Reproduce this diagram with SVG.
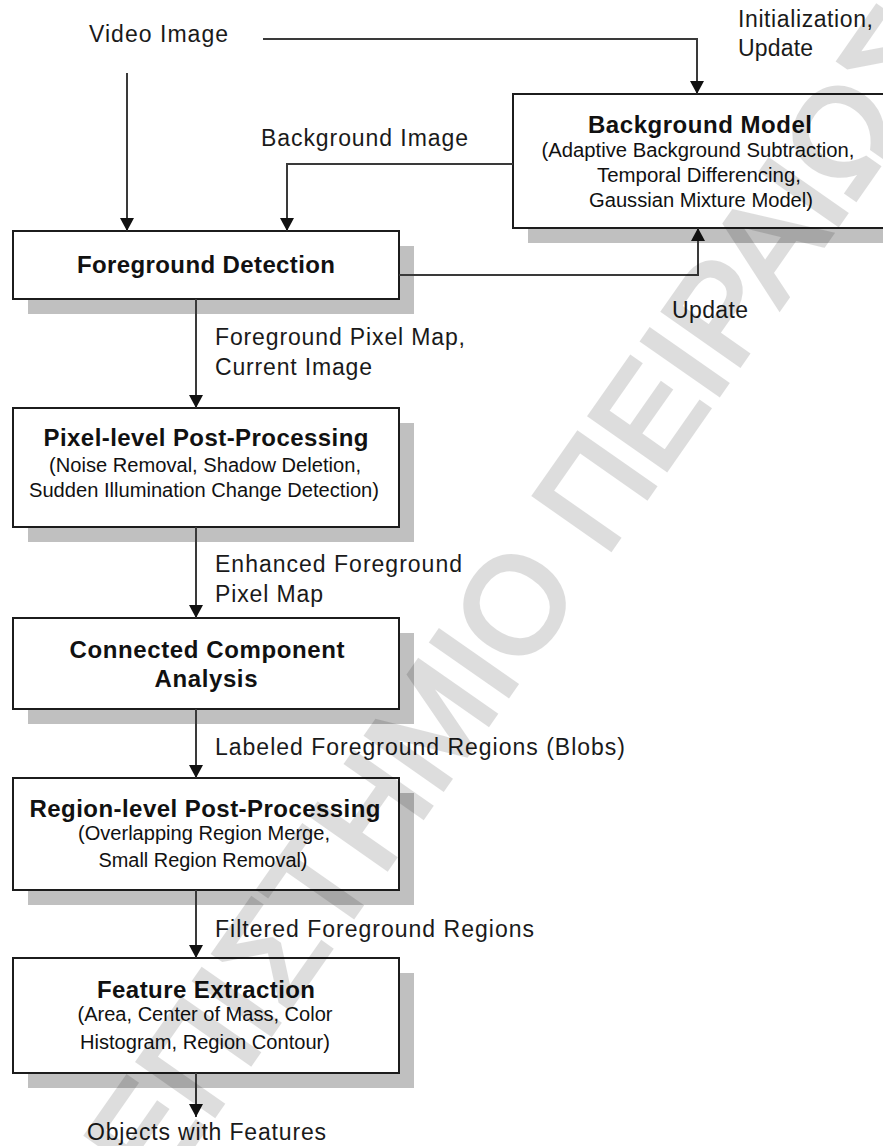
<svg xmlns="http://www.w3.org/2000/svg" width="883" height="1146" viewBox="0 0 883 1146">
  <defs>
    <marker id="arrow" viewBox="0 0 13 14" refX="13" refY="7" markerWidth="13" markerHeight="14" markerUnits="userSpaceOnUse" orient="auto">
      <path d="M0,0 L13,7 L0,14 z" fill="#111"/>
    </marker>
    <style>
      .box { fill: #fff; stroke: #1c1c1c; stroke-width: 2; }
      .shadow { fill: #c0c0c0; }
      .title { font-family: "Liberation Sans", Arial, sans-serif; font-weight: bold; font-size: 24px; fill: #111; text-anchor: middle; }
      .sub { font-family: "Liberation Sans", Arial, sans-serif; font-size: 20px; fill: #111; text-anchor: middle; }
      .label { font-family: "Liberation Sans", Arial, sans-serif; font-size: 23px; fill: #1a1a1a; }
      .wire { fill: none; stroke: #3a3a3a; stroke-width: 2; }
      .mark { font-family: "Liberation Sans", Arial, sans-serif; font-size: 135px; fill: #000; stroke: #000; stroke-width: 5; stroke-linejoin: miter; }
    </style>
  </defs>

  <rect width="883" height="1146" fill="#fff"/>

  <!-- free labels -->
  <g id="labels">
    <text class="label" x="89" y="42" textLength="139" lengthAdjust="spacing">Video Image</text>
    <text class="label" x="261" y="146" textLength="207" lengthAdjust="spacing">Background Image</text>
    <text class="label" x="738" y="27" textLength="135" lengthAdjust="spacing">Initialization,</text>
    <text class="label" x="738" y="56" textLength="75" lengthAdjust="spacing">Update</text>
    <text class="label" x="672" y="318" textLength="76" lengthAdjust="spacing">Update</text>
    <text class="label" x="215" y="345" textLength="250" lengthAdjust="spacing">Foreground Pixel Map,</text>
    <text class="label" x="215" y="375" textLength="157" lengthAdjust="spacing">Current Image</text>
    <text class="label" x="215" y="572" textLength="247" lengthAdjust="spacing">Enhanced Foreground</text>
    <text class="label" x="215" y="602" textLength="108" lengthAdjust="spacing">Pixel Map</text>
    <text class="label" x="215" y="755" textLength="410" lengthAdjust="spacing">Labeled Foreground Regions (Blobs)</text>
    <text class="label" x="215" y="937" textLength="319" lengthAdjust="spacing">Filtered Foreground Regions</text>
    <text class="label" x="87" y="1140" textLength="239" lengthAdjust="spacing">Objects with Features</text>
  </g>

  <!-- processing blocks -->
  <g id="background-model">
    <rect class="shadow" x="528" y="109" width="371" height="134"/>
    <rect class="box" x="513" y="94" width="371" height="134"/>
    <text class="title" x="700" y="133" textLength="224" lengthAdjust="spacing">Background Model</text>
    <text class="sub" x="698" y="157" textLength="313" lengthAdjust="spacingAndGlyphs">(Adaptive Background Subtraction,</text>
    <text class="sub" x="699" y="182" textLength="204" lengthAdjust="spacingAndGlyphs">Temporal Differencing,</text>
    <text class="sub" x="701" y="207" textLength="224" lengthAdjust="spacingAndGlyphs">Gaussian Mixture Model)</text>
  </g>

  <g id="foreground-detection">
    <rect class="shadow" x="28" y="246" width="386" height="68"/>
    <rect class="box" x="13" y="231" width="386" height="68"/>
    <text class="title" x="206" y="273" textLength="258" lengthAdjust="spacing">Foreground Detection</text>
  </g>

  <g id="pixel-post">
    <rect class="shadow" x="28" y="423" width="386" height="119"/>
    <rect class="box" x="13" y="408" width="386" height="119"/>
    <text class="title" x="206" y="446" textLength="325" lengthAdjust="spacing">Pixel-level Post-Processing</text>
    <text class="sub" x="205" y="472" textLength="312" lengthAdjust="spacingAndGlyphs">(Noise Removal, Shadow Deletion,</text>
    <text class="sub" x="204" y="497" textLength="350" lengthAdjust="spacingAndGlyphs">Sudden Illumination Change Detection)</text>
  </g>

  <g id="connected-component">
    <rect class="shadow" x="28" y="633" width="386" height="91"/>
    <rect class="box" x="13" y="618" width="386" height="91"/>
    <text class="title" x="207" y="658" textLength="275" lengthAdjust="spacing">Connected Component</text>
    <text class="title" x="206" y="687" textLength="103" lengthAdjust="spacing">Analysis</text>
  </g>

  <g id="region-post">
    <rect class="shadow" x="28" y="793" width="386" height="112"/>
    <rect class="box" x="13" y="778" width="386" height="112"/>
    <text class="title" x="205" y="817" textLength="351" lengthAdjust="spacing">Region-level Post-Processing</text>
    <text class="sub" x="204" y="840" textLength="252" lengthAdjust="spacingAndGlyphs">(Overlapping Region Merge,</text>
    <text class="sub" x="203" y="867" textLength="209" lengthAdjust="spacingAndGlyphs">Small Region Removal)</text>
  </g>

  <g id="feature-extraction">
    <rect class="shadow" x="28" y="973" width="386" height="115"/>
    <rect class="box" x="13" y="958" width="386" height="115"/>
    <text class="title" x="206" y="998" textLength="218" lengthAdjust="spacing">Feature Extraction</text>
    <text class="sub" x="205" y="1021" textLength="255" lengthAdjust="spacingAndGlyphs">(Area, Center of Mass, Color</text>
    <text class="sub" x="205" y="1049" textLength="250" lengthAdjust="spacingAndGlyphs">Histogram, Region Contour)</text>
  </g>

  <!-- connectors -->
  <g id="connectors">
    <path class="wire" d="M127,73 V231" marker-end="url(#arrow)"/>
    <path class="wire" d="M263,39 H697 V94" marker-end="url(#arrow)"/>
    <path class="wire" d="M513,164 H287 V231" marker-end="url(#arrow)"/>
    <path class="wire" d="M399,275 H698 V228" marker-end="url(#arrow)"/>
    <path class="wire" d="M196,299 V408" marker-end="url(#arrow)"/>
    <path class="wire" d="M196,527 V618" marker-end="url(#arrow)"/>
    <path class="wire" d="M196,709 V778" marker-end="url(#arrow)"/>
    <path class="wire" d="M196,890 V958" marker-end="url(#arrow)"/>
    <path class="wire" d="M196,1073 V1117" marker-end="url(#arrow)"/>
  </g>

  <!-- diagonal watermark, composited once so fill and stroke blend as one -->
  <g opacity="0.13">
    <text class="mark" transform="translate(-7,1431) rotate(-55)">ΠΑΝΕΠΙΣΤΗΜΙΟ ΠΕΙΡΑΙΩΣ</text>
  </g>
</svg>
